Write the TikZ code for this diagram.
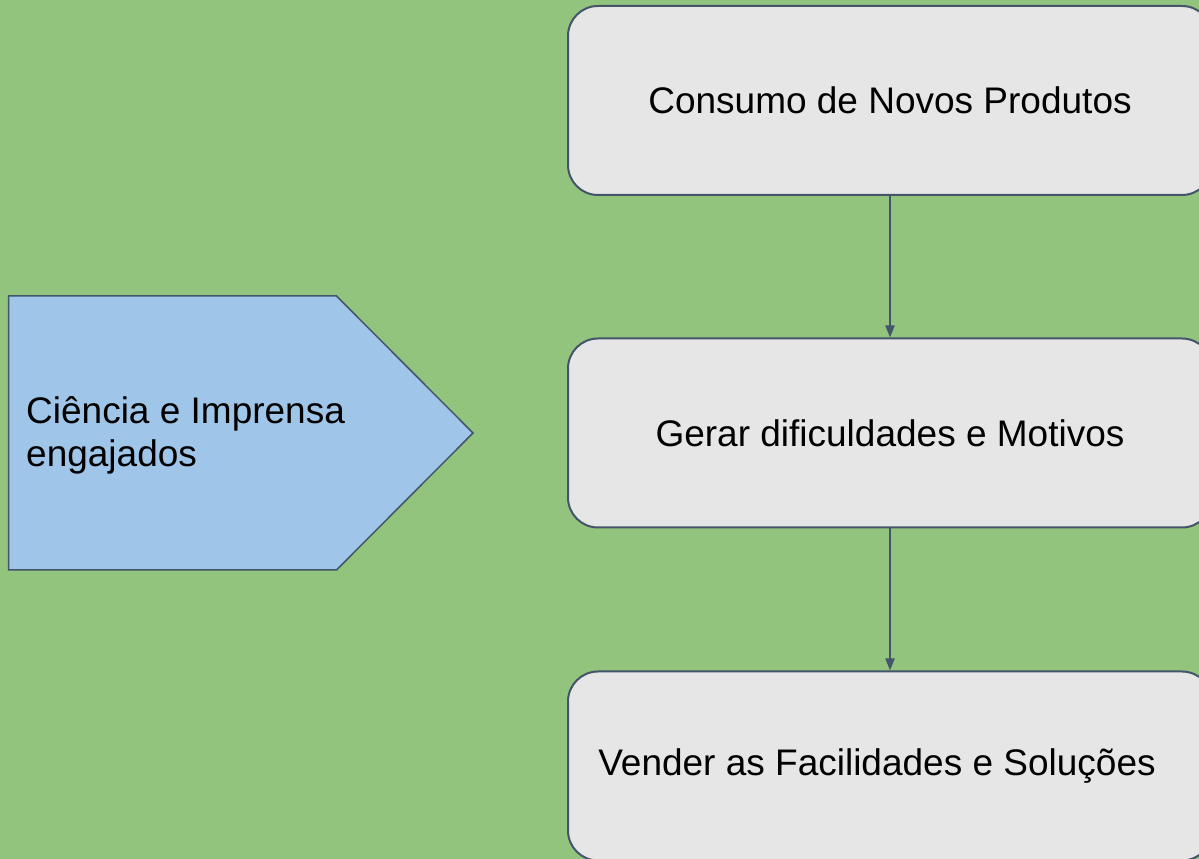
\documentclass[tikz,border=0pt]{standalone}
\usepackage{fontspec}
\setmainfont{Liberation Sans}
\usetikzlibrary{arrows.meta}
\definecolor{bggreen}{RGB}{147,196,125}
\definecolor{boxgray}{RGB}{230,230,230}
\definecolor{edgeblue}{RGB}{68,84,106}
\definecolor{arrowblue}{RGB}{159,197,232}

\begin{document}
\begin{tikzpicture}[x=1pt,y=1pt,
    etapa/.style={draw=edgeblue, line width=2pt, fill=boxgray, rounded corners=30pt,
                  minimum width=644pt, minimum height=189pt, inner sep=0pt,
                  font=\fontsize{37}{43}\selectfont},
    seta/.style={edgeblue, line width=2pt, -{Triangle[length=12pt,width=9pt]}}]
                      \useasboundingbox (0,0) rectangle (1199,859);
                      \fill[bggreen] (0,0) rectangle (1199,859);

                      % pentagono da esquerda
                      \draw[edgeblue, line width=1.5pt, fill=arrowblue]
                              (8.5,563) -- (336.5,563) -- (473,426) -- (336.5,289) -- (8.5,289) -- cycle;
                      \node[anchor=west, align=left, inner sep=0pt, font=\fontsize{37}{43}\selectfont]
                              (ciencia) at (26,424) {Ciência e Imprensa\\engajados};

                      % etapas
                      \node[etapa] (consumo) at (890,758.5) {Consumo de Novos Produtos};
                      \node[etapa] (gerar) at (890,426) {Gerar dificuldades e Motivos};
                      \node[etapa] (vender) at (890,93) {\raisebox{-4pt}{Vender as Facilidades e Soluções}\hspace*{26pt}};

                      \draw[seta] (consumo) -- (gerar);
                      \draw[seta] (gerar) -- (vender);

                  \end{tikzpicture}
\end{document}
